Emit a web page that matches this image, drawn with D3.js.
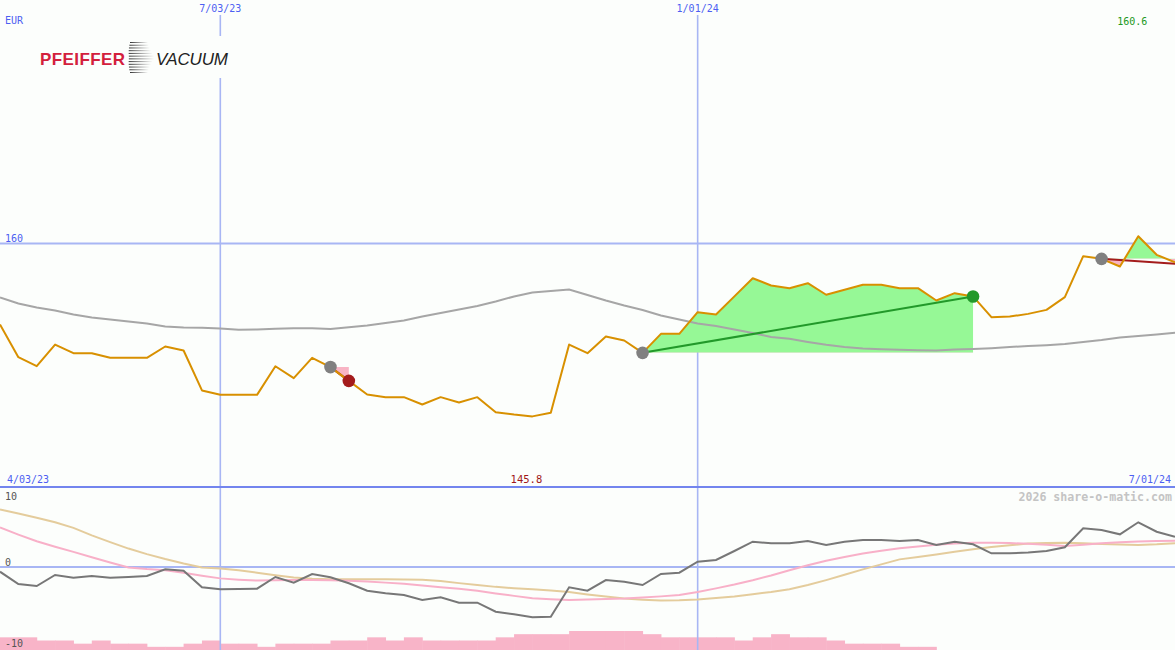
<!DOCTYPE html>
<html><head><meta charset="utf-8">
<script src="https://cdn.jsdelivr.net/npm/d3@7"></script>
<style>html,body{margin:0;padding:0;background:#fcfefc;overflow:hidden}svg{display:block}</style>
</head><body><svg id="c" width="1175" height="650"></svg>
<script>
const dates = ["2023-04-10","2023-04-17","2023-04-24","2023-05-01","2023-05-08","2023-05-15","2023-05-22","2023-05-29","2023-06-05","2023-06-12","2023-06-19","2023-06-26","2023-07-03","2023-07-10","2023-07-17","2023-07-24","2023-07-31","2023-08-07","2023-08-14","2023-08-21","2023-08-28","2023-09-04","2023-09-11","2023-09-18","2023-09-25","2023-10-02","2023-10-09","2023-10-16","2023-10-23","2023-10-30","2023-11-06","2023-11-13","2023-11-20","2023-11-27","2023-12-04","2023-12-11","2023-12-18","2023-12-25","2024-01-01","2024-01-08","2024-01-15","2024-01-22","2024-01-29","2024-02-05","2024-02-12","2024-02-19","2024-02-26","2024-03-04","2024-03-11","2024-03-18","2024-03-25","2024-04-01","2024-04-08","2024-04-15","2024-04-22","2024-04-29","2024-05-06","2024-05-13","2024-05-20","2024-05-27","2024-06-03","2024-06-10","2024-06-17","2024-06-24","2024-07-01"];
const price = [153.35,150.66,149.92,151.70,150.99,150.99,150.61,150.61,150.61,151.54,
151.21,147.93,147.57,147.57,147.57,149.92,148.94,150.61,149.85,148.72,
147.60,147.38,147.38,146.78,147.38,146.94,147.38,146.14,145.95,145.80,
146.09,151.70,150.99,152.36,152.03,151.02,152.58,152.58,154.36,154.17,
155.66,157.15,156.55,156.33,156.74,155.79,156.20,156.61,156.61,156.33,
156.33,155.32,155.92,155.65,153.95,154.00,154.22,154.55,155.59,158.96,
158.74,158.11,160.60,159.07,158.46];
const movingAvg = [155.56,155.07,154.74,154.50,154.17,153.92,153.76,153.59,153.43,153.18,
153.10,153.08,153.02,152.91,152.94,152.99,153.04,153.04,152.98,153.13,
153.27,153.47,153.68,154.00,154.29,154.58,154.87,155.24,155.65,155.98,
156.10,156.22,155.77,155.32,154.91,154.54,154.09,153.76,153.43,153.22,
152.94,152.65,152.32,152.17,151.91,151.68,151.50,151.38,151.32,151.28,
151.24,151.21,151.29,151.33,151.40,151.50,151.58,151.65,151.75,151.91,
152.07,152.28,152.40,152.53,152.67];
const momentum = [-0.65,-2.36,-2.64,-1.11,-1.49,-1.25,-1.49,-1.39,-1.25,-0.32,
-0.51,-2.82,-3.10,-3.06,-3.01,-1.39,-2.18,-0.97,-1.43,-2.26,
-3.29,-3.65,-3.89,-4.58,-4.21,-4.96,-4.96,-6.21,-6.57,-6.99,
-6.90,-2.82,-3.29,-1.81,-2.04,-2.50,-0.97,-0.79,0.74,0.97,
2.22,3.51,3.29,3.29,3.61,3.06,3.51,3.75,3.75,3.61,
3.75,3.06,3.51,3.15,1.90,1.90,2.01,2.22,2.74,5.38,
5.14,4.54,6.21,4.90,4.21];
const signalFast = [5.49,4.50,3.57,2.82,2.10,1.36,0.63,-0.06,-0.29,-0.46,
-0.81,-1.21,-1.58,-1.76,-1.89,-1.85,-1.81,-1.81,-1.85,-1.90,
-2.03,-2.17,-2.33,-2.58,-2.82,-3.01,-3.31,-3.68,-4.01,-4.35,
-4.47,-4.58,-4.53,-4.46,-4.39,-4.25,-4.08,-3.88,-3.47,-2.97,
-2.43,-1.83,-1.17,-0.44,0.24,0.86,1.39,1.86,2.26,2.60,
2.85,3.08,3.26,3.38,3.38,3.32,3.22,3.08,2.93,3.10,
3.31,3.43,3.53,3.60,3.65];
const signalSlow = [7.99,7.42,6.83,6.22,5.43,4.40,3.46,2.56,1.79,1.11,
0.49,-0.07,-0.22,-0.44,-0.79,-1.13,-1.47,-1.63,-1.69,-1.71,
-1.71,-1.71,-1.72,-1.78,-1.94,-2.24,-2.51,-2.76,-2.94,-3.10,
-3.28,-3.47,-3.81,-4.11,-4.38,-4.54,-4.65,-4.61,-4.50,-4.31,
-4.10,-3.78,-3.47,-3.10,-2.50,-1.82,-1.08,-0.33,0.36,1.06,
1.40,1.74,2.11,2.47,2.78,3.03,3.25,3.32,3.36,3.29,
3.18,3.11,3.07,3.15,3.29];
const barLevels = [4,4,3,3,2,3,2,2,1,1,
2,3,2,2,1,2,2,2,3,3,
4,3,4,3,3,3,3,4,5,5,
5,6,6,6,6,5,4,4,4,4,
3,4,5,4,4,3,2,2,2,1,
1,0,0,0,0,0,0,0,0,0,
0,0,0,0,0];
const priceTicks = [160];
const priceTickLabels = ["160"];
const dateTicks = ["2023-07-03","2024-01-01"];
const dateTickLabels = ["7/03/23","1/01/24"];
const rangeLabels = ["4/03/23","7/01/24"];
const oscTicks = [10,0,-10];
const oscTickLabels = ["10","0","-10"];
const tradeEntries = ["2023-08-14","2023-12-11","2024-06-03"];
const tradeExits = ["2023-08-21","2024-04-15",null];
const currency = "EUR";
const credit = "2026 share-o-matic.com";

const W = 1175, H = 650, panelBottom = 487;
const parse = d3.timeParse("%Y-%m-%d");
const D = dates.map(parse);
const svg = d3.select("#c");
const mono = "'DejaVu Sans Mono', monospace";
const blueText = "#4d5ff2";

const x = d3.scaleTime().domain([parse("2023-04-10"), parse("2024-07-01")]).range([0, W]);
const y = d3.scaleLinear().domain([140, 180]).range([panelBottom, 0]);
const yo = d3.scaleLinear().domain([-10, 10]).range([639, 495]);
const yb = d3.scaleLinear().domain([0, 6]).range([H, 631]);

svg.append("rect").attr("width", W).attr("height", H).attr("fill", "#fcfefc");

// bars in the lower panel
const nextDate = i => i < D.length - 1 ? D[i + 1] : d3.timeDay.offset(D[i], 7);
svg.append("g").selectAll("rect").data(barLevels).join("rect")
  .attr("x", (d, i) => x(D[i]))
  .attr("width", (d, i) => Math.max(0, x(nextDate(i)) - x(D[i])) + 0.5)
  .attr("y", d => yb(d)).attr("height", d => H - yb(d))
  .attr("fill", "#f8b4c8");

// grid
svg.append("g").selectAll("line").data(priceTicks).join("line")
  .attr("x1", 0).attr("x2", W).attr("y1", d => y(d)).attr("y2", d => y(d))
  .attr("stroke", "#a8b6f4").attr("stroke-width", 2);
svg.append("g").selectAll("line").data(oscTicks.filter(v => v === 0)).join("line")
  .attr("x1", 0).attr("x2", W).attr("y1", d => yo(d)).attr("y2", d => yo(d))
  .attr("stroke", "#a8b6f4").attr("stroke-width", 2);
svg.append("g").selectAll("line").data(dateTicks).join("line")
  .attr("x1", d => x(parse(d))).attr("x2", d => x(parse(d)))
  .attr("y1", 15).attr("y2", H)
  .attr("stroke", "#a8b6f4").attr("stroke-width", 1.6);
svg.append("line").attr("x1", 0).attr("x2", W).attr("y1", panelBottom).attr("y2", panelBottom)
  .attr("stroke", "#7385ee").attr("stroke-width", 2);

// trade fills
const ptsAll = D.map((d, i) => ({ date: d, price: price[i] }));
const defs = svg.append("defs");
tradeEntries.forEach((e, k) => {
  const ei = dates.indexOf(e);
  const xi = tradeExits[k] ? dates.indexOf(tradeExits[k]) : D.length - 1;
  const base = price[ei];
  const pts = ptsAll.slice(ei, xi + 1);
  const area = d3.area().x(d => x(d.date)).y0(y(base)).y1(d => y(d.price));
  const x0 = x(D[ei]), x1 = x(D[xi]);
  defs.append("clipPath").attr("id", "up" + k).append("rect")
    .attr("x", x0).attr("width", x1 - x0 + 1).attr("y", 0).attr("height", y(base));
  defs.append("clipPath").attr("id", "dn" + k).append("rect")
    .attr("x", x0).attr("width", x1 - x0 + 1).attr("y", y(base)).attr("height", panelBottom - y(base));
  svg.append("path").datum(pts).attr("d", area).attr("fill", "#96f896").attr("clip-path", `url(#up${k})`);
  svg.append("path").datum(pts).attr("d", area).attr("fill", "#f8b4c4").attr("clip-path", `url(#dn${k})`);
});

// moving average
const line = d3.line().x((d, i) => x(D[i])).y(d => y(d));
svg.append("path").datum(movingAvg).attr("d", line).attr("fill", "none")
  .attr("stroke", "#a6a6a6").attr("stroke-width", 2);

// trade lines (under the price line)
tradeEntries.forEach((e, k) => {
  const ei = dates.indexOf(e);
  const xi = tradeExits[k] ? dates.indexOf(tradeExits[k]) : D.length - 1;
  const win = price[xi] > price[ei];
  svg.append("line").attr("x1", x(D[ei])).attr("y1", y(price[ei]))
    .attr("x2", x(D[xi])).attr("y2", y(price[xi]) + (tradeExits[k] ? 0 : 1.5))
    .attr("stroke", win ? "#22992a" : "#a41c1c").attr("stroke-width", 2);
});

// price
svg.append("path").datum(price).attr("d", line).attr("fill", "none")
  .attr("stroke", "#d89000").attr("stroke-width", 2).attr("stroke-linejoin", "round");

// markers
tradeEntries.forEach((e, k) => {
  const ei = dates.indexOf(e);
  svg.append("circle").attr("cx", x(D[ei])).attr("cy", y(price[ei])).attr("r", 6.3).attr("fill", "#808080");
  if (tradeExits[k]) {
    const xi = dates.indexOf(tradeExits[k]);
    const win = price[xi] > price[ei];
    svg.append("circle").attr("cx", x(D[xi])).attr("cy", y(price[xi])).attr("r", 6.3)
      .attr("fill", win ? "#22992a" : "#a41c1c");
  }
});

// oscillator lines
const lo = d3.line().x((d, i) => x(D[i])).y(d => yo(d));
svg.append("path").datum(signalSlow).attr("d", lo).attr("fill", "none").attr("stroke", "#e4cc9c").attr("stroke-width", 2);
svg.append("path").datum(signalFast).attr("d", lo).attr("fill", "none").attr("stroke", "#f8b0c8").attr("stroke-width", 2);
svg.append("path").datum(momentum).attr("d", lo).attr("fill", "none").attr("stroke", "#777777").attr("stroke-width", 2);

// logo
const logo = svg.append("g");
logo.append("rect").attr("x", 30).attr("y", 36).attr("width", 208).attr("height", 42).attr("fill", "#fcfefc");
logo.append("text").attr("x", 40).attr("y", 65).text("PFEIFFER")
  .attr("font-family", "'Liberation Sans', Arial, sans-serif").attr("font-weight", "bold")
  .attr("font-size", 17).attr("fill", "#d3203c").attr("textLength", 85);
const grad = defs.append("linearGradient").attr("id", "sw").attr("x1", 0).attr("x2", 1);
grad.append("stop").attr("offset", 0).attr("stop-color", "#333");
grad.append("stop").attr("offset", 0.5).attr("stop-color", "#999");
grad.append("stop").attr("offset", 1).attr("stop-color", "#fcfefc");
for (let i = 0; i < 12; i++) {
  const t = (i - 5.5) / 5.5;
  const yy = 57.5 + t * 15;
  const xl = 127 + 5 * (1 - Math.abs(t)) * 0.4 + 3 * t * t;
  logo.append("rect").attr("x", xl).attr("y", yy - 0.5).attr("width", 26 - 8 * Math.abs(t)).attr("height", 1)
    .attr("fill", "url(#sw)");
}
logo.append("text").attr("x", 156).attr("y", 65).text("VACUUM")
  .attr("font-family", "'Liberation Sans', Arial, sans-serif").attr("font-style", "italic")
  .attr("font-size", 17).attr("fill", "#222").attr("textLength", 72);

// texts
const txt = (xx, yy, s, col, anchor, size, weight) => svg.append("text").attr("x", xx).attr("y", yy).text(s)
  .attr("font-family", mono).attr("font-size", size || 10).attr("fill", col)
  .attr("text-anchor", anchor || "start").attr("font-weight", weight || "normal");
txt(5, 24, currency, blueText);
dateTicks.forEach((d, i) => txt(x(parse(d)), 12, dateTickLabels[i], blueText, "middle"));
priceTicks.forEach((p, i) => txt(5, y(p) - 2, priceTickLabels[i], blueText));
txt(7, 483, rangeLabels[0], blueText);
txt(1171, 483, rangeLabels[1], blueText, "end");
const maxI = d3.maxIndex(price), minI = d3.minIndex(price);
txt(x(D[maxI]) - 6, 25, d3.format(".1f")(price[maxI]), "#229922", "middle");
txt(x(D[minI]) - 6, 483, d3.format(".1f")(price[minI]), "#a01818", "middle", 10.5);
txt(1172, 501, credit, "#c4c4c4", "end", 11.6, "bold");
const oscLabelY = [500, 566, 647];
oscTicks.forEach((v, i) => txt(5, oscLabelY[i], oscTickLabels[i], "#555"));
</script></body></html>
